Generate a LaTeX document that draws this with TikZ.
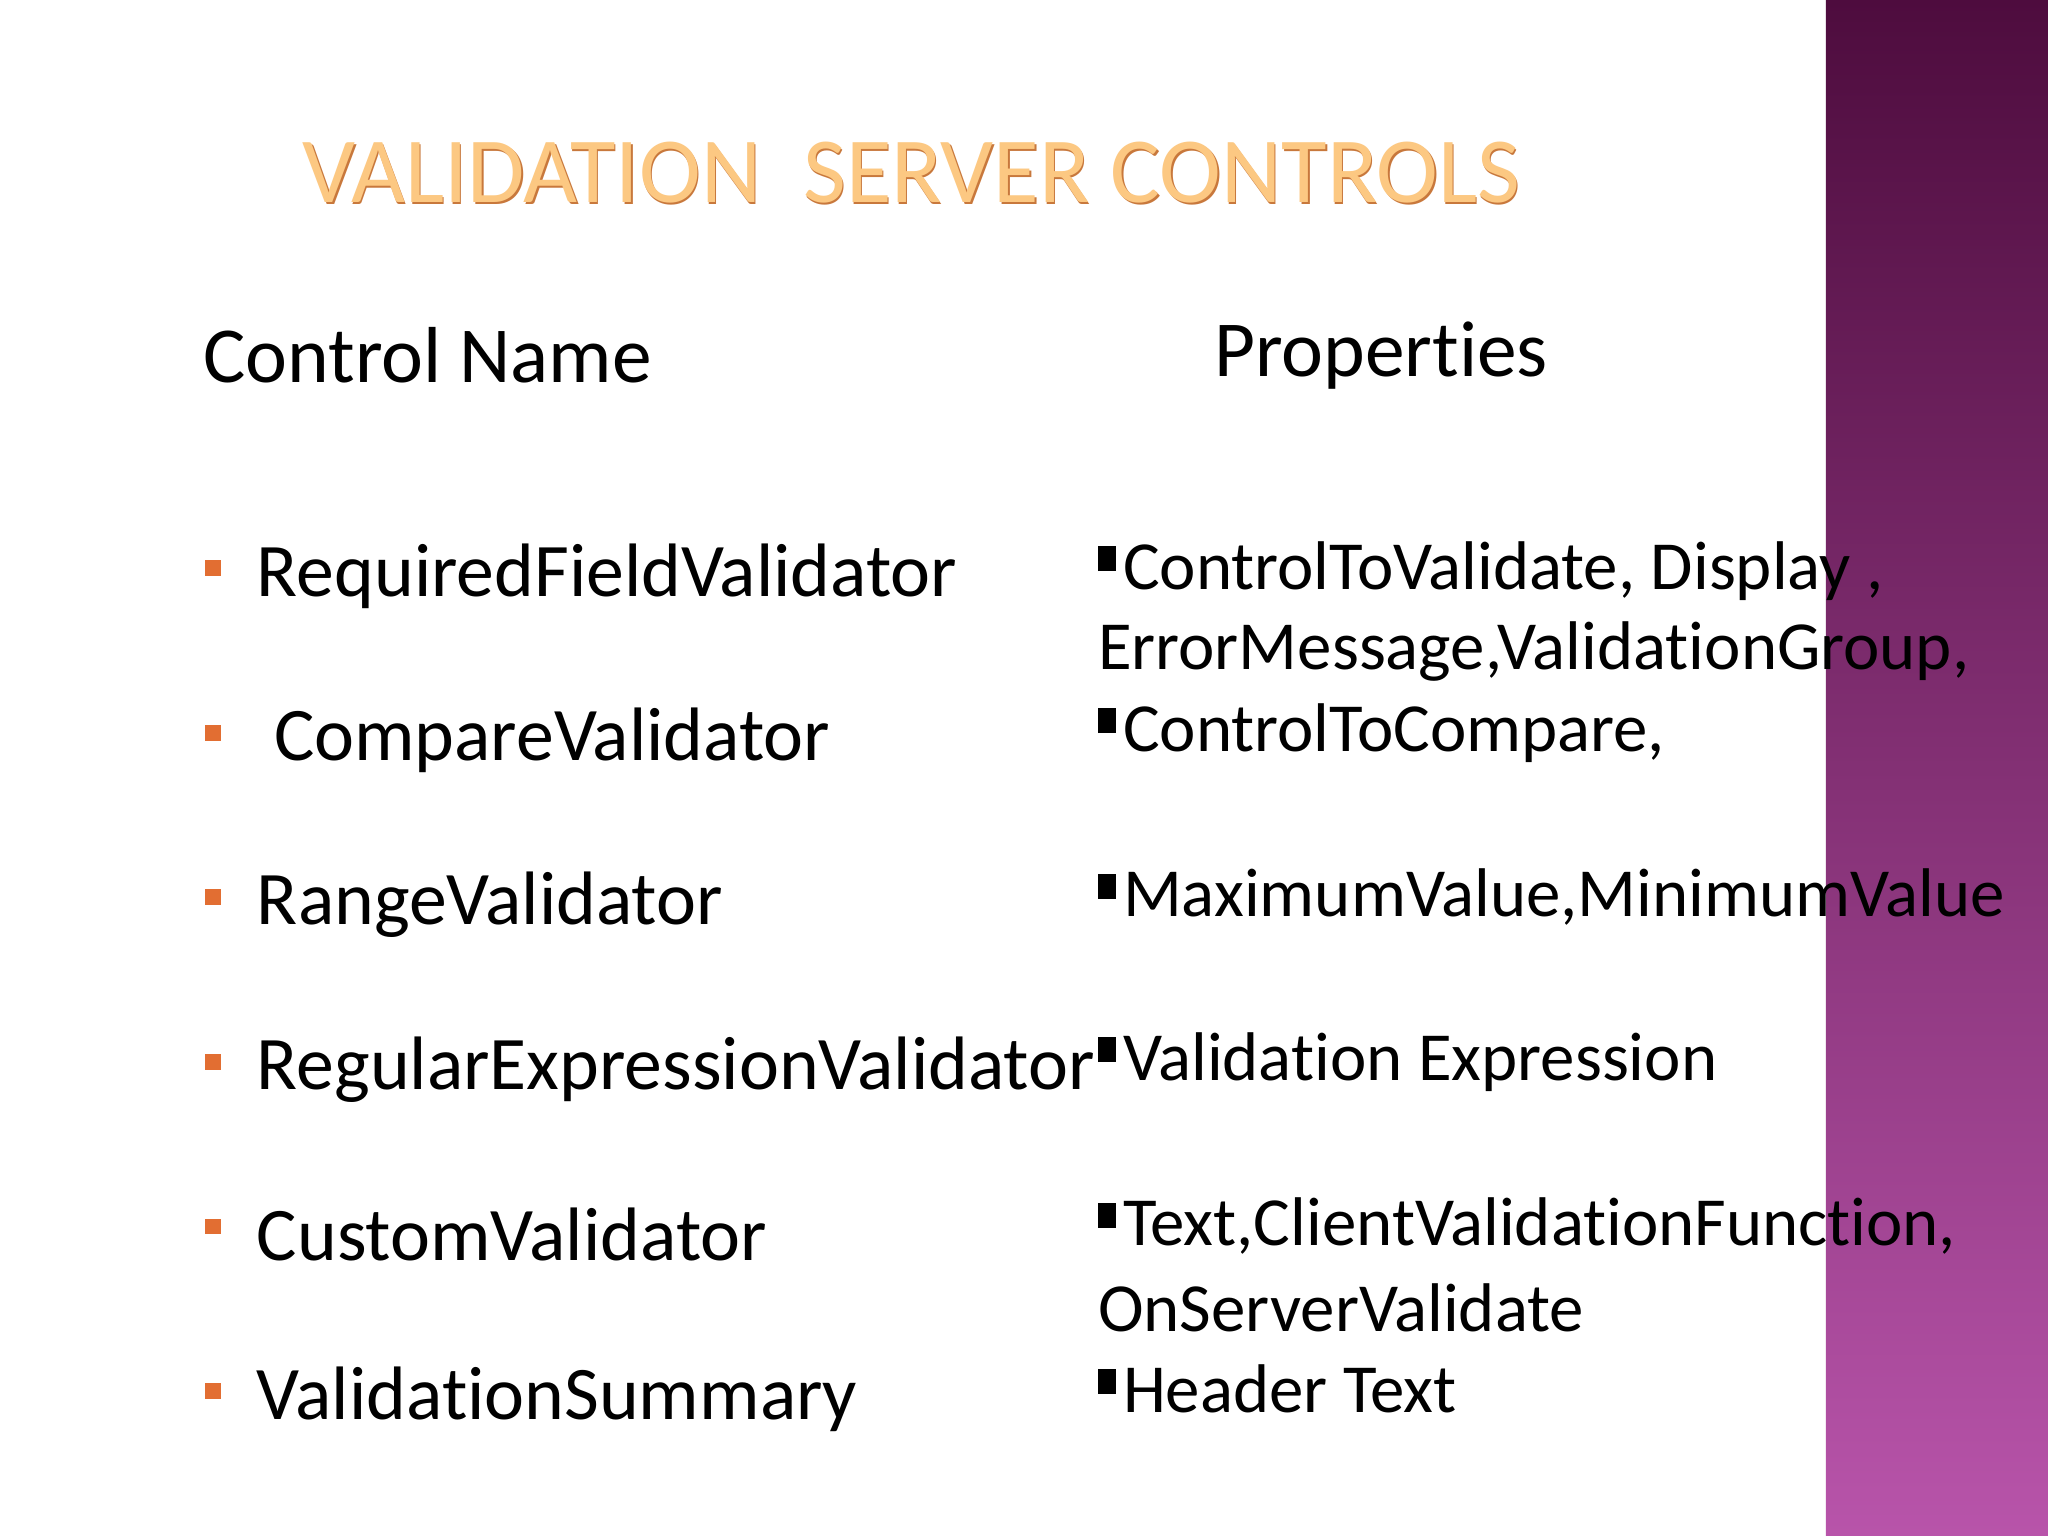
\documentclass[tikz,border=0pt]{standalone}
\usepackage{fontspec}
\setmainfont{Carlito}[Ligatures={NoCommon,NoRare}]
\begin{document}
\begin{tikzpicture}[x=1cm,y=1cm,
  lft/.style={anchor=west,inner sep=0pt,font=\fontsize{16.5}{18}\selectfont},
  rgt/.style={anchor=west,inner sep=0pt,font=\fontsize{15}{17}\selectfont},
  obul/.style={fill={rgb,255:red,226;green,110;blue,50},minimum size=1.2mm,inner sep=0pt}]
\useasboundingbox (0,0) rectangle (15.68,-11.76);
\fill[white] (0,0) rectangle (15.68,-11.76);
\shade[top color={rgb,255:red,78;green,12;blue,62},bottom color={rgb,255:red,184;green,84;blue,170}] (13.98,0) rectangle (15.68,-11.76);
\definecolor{tdark}{RGB}{200,120,60}
\definecolor{tlight}{RGB}{252,200,130}
\node[inner sep=0pt,text=tdark,font=\fontsize{20.3}{22}\selectfont] at (6.99,-1.335) {VALIDATION\ \ SERVER CONTROLS};
\node (title) [inner sep=0pt,text=tlight,font=\fontsize{20.3}{22}\selectfont] at (6.98,-1.32) {VALIDATION\ \ SERVER CONTROLS};
\node (h1) [lft,font=\fontsize{17.3}{19}\selectfont] at (1.55,-2.72) {Control Name};
\node (h2) [lft,font=\fontsize{17.3}{19}\selectfont] at (9.29,-2.72) {Properties};
\foreach \y/\t [count=\i] in {4.41/RequiredFieldValidator,5.67/{\ CompareValidator},6.93/RangeValidator,8.19/RegularExpressionValidator,9.45/CustomValidator,10.71/ValidationSummary}{
  \node (b\i) [obul] at (1.63,-\y+0.06) {};
  \node (l\i) [lft] at (1.96,-\y) {\t};
}
\newcommand\bsq{\rule[0.55ex]{0.55ex}{0.75ex}\hspace{0.1em}}
\foreach \y/\t [count=\i] in {4.37/{\bsq ControlToValidate, Display ,},4.99/{ErrorMessage,ValidationGroup,},5.61/{\bsq ControlToCompare,},6.87/{\bsq MaximumValue,MinimumValue},8.13/{\bsq Validation Expression},9.39/{\bsq Text,ClientValidationFunction,},10.01/{OnServerValidate},10.63/{\bsq Header Text}}{
  \node (r\i) [rgt] at (8.40,-\y) {\t};
}
\end{tikzpicture}
\end{document}
